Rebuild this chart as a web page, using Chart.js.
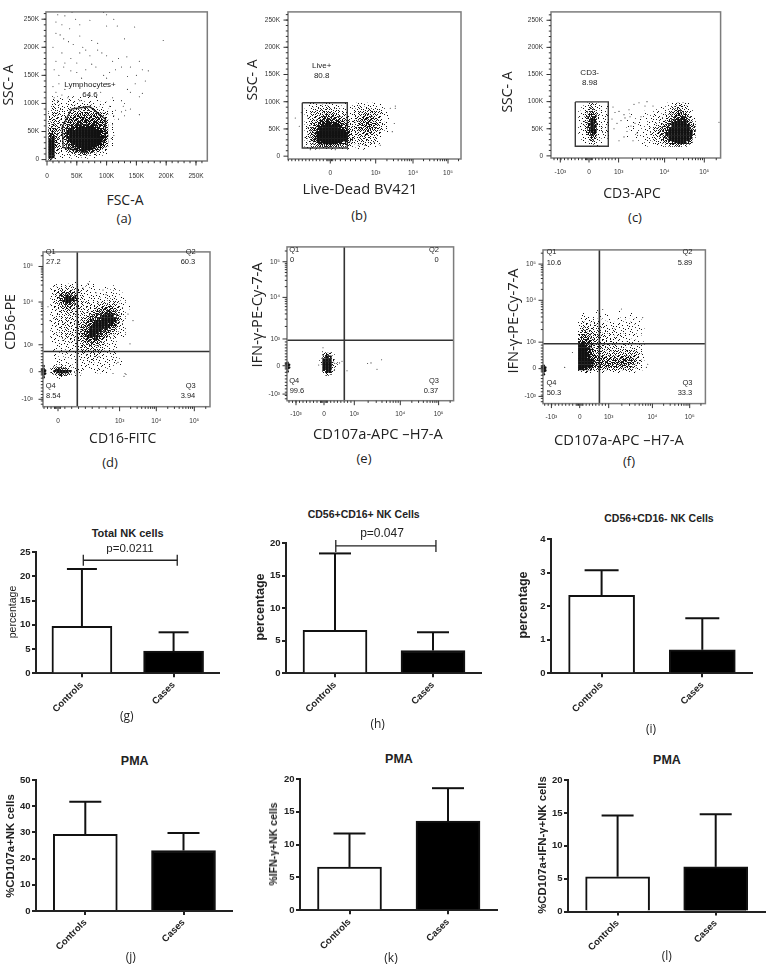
<!DOCTYPE html>
<html>
<head>
<meta charset="utf-8">
<title>NK cell gating and percentages</title>
<script src="https://cdn.jsdelivr.net/npm/chart.js@4/dist/chart.umd.min.js"></script>
<style>
  html, body { margin: 0; background: #fff; }
  #page { position: relative; width: 767px; height: 964px; overflow: hidden; }
  #page canvas { position: absolute; }
  #page canvas.flow { filter: blur(0.3px); }
  #page span { position: absolute; white-space: nowrap; color: #222; transform: translate(-50%, -50%); }
</style>
</head>
<body>
<div id="page"></div>
<script>
// ---- flow plot data. Rows are dot densities, 1-9, top row first
const aRows = [
  "..1.11.1.1.1..1..1......",
  "..1111.1111.1.11.1....1.",
  "..1211111111111.1.1.1...",
  "..2121111212121211.1.1..",
  "..2222121222333232111...",
  ".12222123333344333211.1.",
  ".12322223344444444332.1.",
  ".23322234455555555432.1.",
  ".23332345555666665543.1.",
  ".33332345566666666553.1.",
  ".34333356677777776654.1.",
  ".34433467778888877654.1.",
  ".45433478889999888765.1.",
  ".56432478999999999765.1.",
  ".67432478999999999876.2.",
  ".78432378999999999865.1.",
  ".88432367899999998754.1.",
  ".99432356788999887643.1.",
  ".99332245677888765432...",
  ".99322134456766543211...",
  ".99211112233443221111...",
  ".971111.1112111.11......",
  ".5.1...................."
];
const aSparseX = [18,30,42,48,55,15,25,95,100,112,72,38,118,147,100,15,22,28,36,44,55,75,85,60,10,195,130,25,40,55,65,72,85,92,100,120,134,110,30,15,50,12,20,28,40,50,58,65,75,82,95,100,105,115,125,140,155,160,170,150,135,148,165,10,15,20,25,30,18,12,35,45,55,70,80,90,100,110,125,130,140,155,135,160,105,115,125,130,140,155,120,110,112,128,132];
const aSparseY = [258,256,262,250,240,245,240,262,258,250,248,233,238,236,238,225,222,215,210,205,220,212,207,200,200,212,215,190,180,190,195,185,195,190,185,180,183,175,172,175,172,160,150,165,158,155,145,160,170,165,150,145,155,160,165,165,175,160,158,150,148,135,140,130,120,135,115,125,105,110,110,135,105,115,130,120,135,110,105,100,120,112,125,118,95,88,85,78,90,80,72,62,78,95,88];
const aGateX = [41,71.7,98,98,63,27,25.6,41];
const aGateY = [90,94.4,72,35.6,14.3,21.6,58,90];

const bRows = [
  "..11111211111.1...1111111.1...",
  "..112222221111..112212111.1...",
  ".11223333322211..12222322211..",
  ".11233333333221.1222333322211.",
  ".1223334444332211223343332211.",
  ".12233455554433212334444332.1.",
  ".12334566665543312344544332.1.",
  ".1234567777765432234455443211.",
  ".1234678888876543234455443211.",
  ".1345789999987543234444433211.",
  ".13457899999987532333443322.1.",
  ".13468999999998632333433221...",
  ".23468999999998632233332211...",
  ".1346899999998754222332221....",
  ".1235678888876543122222211....",
  ".1123445555443321.1112111.....",
  ".1111121111111.1..1.11........"
];
const bSparseX = [-35,-31,-29,65,65,64,62,60,22,50,44,35,28,-20,5];
const bSparseY = [70,55,80,92,88,60,45,88,25,20,25,20,20,12,12];
const bGateX = [-28,17,17,-28,-28];
const bGateY = [98,98,15,15,98];

const cLeftRows = [
  "...12321...",
  "..1123211.1",
  "..1134211..",
  ".1123542111",
  ".1124652111",
  ".1135762111",
  ".1125872111",
  ".1136972111",
  ".1136982211",
  ".1126872111",
  ".1125871211",
  ".1124761111",
  "..112551111",
  "..112431.1.",
  "..1112211..",
  ".....1.1..."
];
const cRightRows = [
  "..............1.123211..",
  "............1.112333211.",
  "...........1.1123443221.",
  ".......1.1.1.1123454321.",
  "..1...1.1.1.11234565431.",
  "...1.1.1.111122346676431",
  ".1...1.1.111223467877531",
  "...1.11.1112234578988642",
  ".1.1.1.11122345689999864",
  "...1.1.11223446789999863",
  "..1.1.111223446899999974",
  "...1.1.11223457899999983",
  ".1..1.111122346899999972",
  "....1.11122234578999986.",
  "......1.112223456788764.",
  ".......1.1.11223344321.."
];
const cSparseX = [24,26,30,35,40,45,28,25,32,38,42,35,44,46,50,56,52,30,36,48,41,23,58,64,130];
const cSparseY = [90,80,82,76,85,95,60,50,65,45,55,35,28,60,98,92,72,28,70,42,72,68,100,92,62];
const cGateX = [-13.7,19.3,19.3,-13.7,-13.7];
const cGateY = [99.5,99.5,17.7,17.7,99.5];

const dRows = [
  ".........1...1..............",
  "..1111111111.1.1.....1......",
  ".112222221211.11...1..1.....",
  ".122333332211111.1.1.1..1...",
  ".123455543211111.1111111....",
  ".1235677642211111111111.1...",
  ".12356887532111212111211.1..",
  ".1234677532212112122222111..",
  ".1223455432212212233333211..",
  ".1223344332222223344443321.1",
  ".1122333322212234455554321..",
  ".1122223322223345566765321..",
  ".1122222222223456677886421..",
  ".1222222222234566788887521..",
  ".1122222222345677899887421..",
  ".1122222222345678899776321..",
  ".1122222223456788887654211..",
  ".1112222223456788876543211..",
  ".1112222223457888765432111..",
  ".1122222223457887654321111..",
  ".1112122222346676543211.....",
  ".1111212212344554432111.....",
  "..111111122234444332111.....",
  "..1111111123333322211.11....",
  "..1111.1112223333211111.....",
  "..1.1111111222332221111.....",
  "..1111.1111112223211111.....",
  "..1.1.1.1111122211111111....",
  "...111.1.1111222111111111...",
  "...11111.11111111111111.1...",
  "..12221111.1111.111111......",
  ".2466532.1111.11111.1.......",
  ".3689996.311...11111........",
  ".1245432.11....1............",
  "...111.1...................."
];
const dSparseX = [-10,-8,60,72,70,75,48,38,45,25,30,55,68,66,67];
const dSparseY = [70,55,10,30,62,55,83,85,88,90,95,-2,-3,-5,-2];
const dPileX = [-14.5,-14.5,-14.5,-14.5,-14.5,-13,-13];
const dPileY = [0,3,6,-3,-6,1,-2];

const eRows = [
  "..1.1...",
  "..2531..",
  "..6872..",
  ".19993..",
  ".19993.1",
  "..99931.",
  "..7993..",
  "..4672..",
  "...32..."
];
const eSparseX = [43.6,47,57.6,53,23,8,12.3,18,-1,-5.3,6.3,9.7,15.6];
const eSparseY = [2.3,3,6.3,-3.7,-5.3,0.7,2.3,4.7,19,0.7,-9.3,4,3];
const ePileX = [-36.5,-36.5,-36.5,-36.5,-35,-35];
const ePileY = [0,3,-3,-6,1,-2];

const fRows = [
  ".......1......1.........",
  "..1.....1.1.......1.....",
  "..111.1.1.....1.1...1...",
  ".1111111.1.1...1.1.1.1..",
  ".122212111111.11111.1...",
  ".1222221121111111111.1..",
  ".2333322211121111111111.",
  ".23433322121211111111.1.",
  ".3444332221211121111.1..",
  ".34543332221121111.11...",
  ".4565432222211111111.1..",
  ".67654333222211121111.1.",
  ".8976433332222111111111.",
  ".9987433323322222122111.",
  ".9987533322323232322211.",
  ".9987543333333333333321.",
  ".9987654443434344443321.",
  ".9998755544445555554321.",
  ".9998865555555565554321.",
  ".9998754544545454443211.",
  ".8876433333333323322111.",
  ".1232211111111111111...."
];
const fSparseX = [-15,-7.3,23,41.7,63,68,66.7];
const fSparseY = [1.3,17,62.6,63,54,4.6,1.3];
const fPileX = [-36,-36,-36,-36,-34.5,-34.5];
const fPileY = [0,3,-3,-6,1,-2];

// ---- flow axis ticks
const linearTicks = [0,50,100,150,200,250];
const linearLabels = ['0','50K','100K','150K','200K','250K'];
const posDecades = ['0','10³','10⁴','10⁵'];
const allDecades = ['-10³','0','10³','10⁴','10⁵'];

// ---- bar plot data
const groups = ['Controls','Cases'];
const groupPos = [0,1];
const gMeans = [9.7,4.6];     const gUpper = [21.5,8.45];
const hMeans = [6.6,3.5];     const hUpper = [18.4,6.3];
const iMeans = [2.32,0.7];    const iUpper = [3.07,1.64];
const jMeans = [29.3,23.1];   const jUpper = [41.7,29.8];
const kMeans = [6.6,13.6];    const kUpper = [11.7,18.6];
const lMeans = [5.3,6.8];     const lUpper = [14.6,14.8];
const gBracketX = [0.015,1.04]; const gBracketY = 23.3;
const hBracketX = [0.008,1.03]; const hBracketY = 19.55;

// page px for the chart areas: left, top, right, bottom
const flowPanels = [
  { area:[46,3,209,161], x:[-1.7,269], y:[-2.5,263], xTicks:linearTicks, xLabels:linearLabels, yTicks:linearTicks, yLabels:linearLabels,
    rows:[[aRows,0,5,110,5]], sparseX:aSparseX, sparseY:aSparseY, gates:[[aGateX,aGateY]], linearX:true, linearY:true, yPad:7, xPad:11 },
  { area:[288,2,461,159], x:[-42.3,130.7], y:[-5.2,265], xTicks:[0,45.4,82.7,117.7], xLabels:posDecades, yTicks:linearTicks, yLabels:linearLabels,
    rows:[[bRows,-27,3,95,5]], sparseX:bSparseX, sparseY:bSparseY, gates:[[bGateX,bGateY]], linearY:true, yPad:8, xPad:10 },
  { area:[550.7,1.3,720.3,158.3], x:[-38,131.6], y:[-3.9,265.4], xTicks:[-28.7,0,29.6,75.6,115.3], xLabels:allDecades, yTicks:linearTicks, yLabels:linearLabels,
    rows:[[cLeftRows,-12,3,95,5],[cRightRows,36,3,95,5]], sparseX:cSparseX, sparseY:cSparseY, gates:[[cGateX,cGateY]], linearY:true, yPad:8, xPad:10 },
  { area:[42.7,240,209.7,406.7], x:[-15,152], y:[-37.7,129], xTicks:[0,61.6,98.3,136.3], xLabels:posDecades, yTicks:[-29.7,0,29,75,113.3], yLabels:allDecades,
    rows:[[dRows,-9,3,96,3]], sparseX:dSparseX, sparseY:dSparseY, pileX:dPileX, pileY:dPileY, quad:[19.3,21.7], yPad:10, xPad:11 },
  { area:[286.7,238.3,453.3,401], x:[-37,129.6], y:[-37,125.7], xTicks:[-28,0,30.3,76.3,114.6], xLabels:allDecades, yTicks:[-30,0,28.3,72.3,110], yLabels:allDecades,
    rows:[[eRows,-6,3,15,3]], sparseX:eSparseX, sparseY:eSparseY, pileX:ePileX, pileY:ePileY, quad:[20.3,27], yPad:7, xPad:10 },
  { area:[543.3,240.7,705.7,403.3], x:[-36.7,125.7], y:[-37,125.6], xTicks:[-28.3,0,29,72.7,110], xLabels:allDecades, yTicks:[-29.4,0,28,72.3,110.6], yLabels:allDecades,
    rows:[[fRows,-3,3,60,3]], sparseX:fSparseX, sparseY:fSparseY, pileX:fPileX, pileY:fPileY, quad:[19.7,26.3], yPad:7, xPad:10 }
];

const barPanels = [
  { area:[35.7,551.7,220,673], centers:[81.7,173.5], max:25, step:5, means:gMeans, upper:gUpper, thick:60, cap:15, bracketX:gBracketX, bracketY:gBracketY, capEnd:5.5 },
  { area:[285.7,542.7,481.7,673], centers:[334.7,432.7], max:20, step:5, means:hMeans, upper:hUpper, thick:64, cap:16, bracketX:hBracketX, bracketY:hBracketY, capEnd:6 },
  { area:[550.7,538.7,752.7,673], centers:[601.3,702], max:4, step:1, means:iMeans, upper:iUpper, thick:66, cap:17 },
  { area:[36,780.3,232.7,911.3], centers:[85.3,183.5], max:50, step:10, means:jMeans, upper:jUpper, thick:64, cap:16 },
  { area:[300,778.7,497.7,910], centers:[349.5,448], max:20, step:5, means:kMeans, upper:kUpper, thick:64, cap:16 },
  { area:[568.3,779.7,766.7,911.3], centers:[618,716.3], max:20, step:5, means:lMeans, upper:lUpper, thick:64, cap:16 }
];

// text, centre x, centre y, size, weight, rotated, family
const OPEN = '"Open Sans", sans-serif';
const ARIAL = '"Liberation Sans", Arial, sans-serif';
const pageTexts = [
  ['(a)',124,218,13,400,0,OPEN],['(b)',359,215,13,400,0,OPEN],['(c)',635,217,13,400,0,OPEN],
  ['(d)',110,462,13,400,0,OPEN],['(e)',364,458,13,400,0,OPEN],['(f)',629,461,13,400,0,OPEN],
  ['(g)',126.7,715,12,400,0,OPEN],['(h)',377.7,723,12,400,0,OPEN],['(i)',651,728,12,400,0,OPEN],
  ['(j)',130.7,955.7,12,400,0,OPEN],['(k)',391,956.7,12,400,0,OPEN],['(l)',666.7,955,12,400,0,OPEN],
  ['FSC-A',125,199,14,400,0,OPEN],['SSC- A',7,85,14,400,1,OPEN],
  ['Live-Dead BV421',360,187.7,14.7,400,0,OPEN],['SSC- A',251,80,14,400,1,OPEN],
  ['CD3-APC',632,191.7,14,400,0,OPEN],['SSC- A',506,92,14,400,1,OPEN],
  ['CD16-FITC',122.7,437.3,14,400,0,OPEN],['CD56-PE',9,321.7,14,400,1,OPEN],
  ['CD107a-APC –H7-A',378,432.7,14.7,400,0,OPEN],['IFN-γ-PE-Cy-7-A',256,315,14.7,400,1,OPEN],
  ['CD107a-APC –H7-A',619,439,14.7,400,0,OPEN],['IFN-γ-PE-Cy-7-A',511.7,320.7,14.7,400,1,OPEN],
  ['Lymphocytes+',90,84,8,400,0,ARIAL],['64.6',90,94,8,400,0,ARIAL],
  ['Live+',321.7,65,8,400,0,ARIAL],['80.8',321.7,75,8,400,0,ARIAL],
  ['CD3-',589.7,72.3,8,400,0,ARIAL],['8.98',589.7,82.3,8,400,0,ARIAL],
  ['Q1',50.7,250.7,7.5,400,0,ARIAL],['27.2',53.3,261,7.5,400,0,ARIAL],['Q2',190.7,250.7,7.5,400,0,ARIAL],['60.3',188,261,7.5,400,0,ARIAL],
  ['Q4',50.7,385,7.5,400,0,ARIAL],['8.54',53.3,395,7.5,400,0,ARIAL],['Q3',190.7,385,7.5,400,0,ARIAL],['3.94',188,395,7.5,400,0,ARIAL],
  ['Q1',294.3,248.7,7.5,400,0,ARIAL],['0',292,259,7.5,400,0,ARIAL],['Q2',434,248.7,7.5,400,0,ARIAL],['0',436.7,259,7.5,400,0,ARIAL],
  ['Q4',294.3,379.7,7.5,400,0,ARIAL],['99.6',297,390,7.5,400,0,ARIAL],['Q3',434,379.7,7.5,400,0,ARIAL],['0.37',431,390,7.5,400,0,ARIAL],
  ['Q1',551.5,251.3,7.5,400,0,ARIAL],['10.6',554,261.7,7.5,400,0,ARIAL],['Q2',687.5,251.3,7.5,400,0,ARIAL],['5.89',685,261.7,7.5,400,0,ARIAL],
  ['Q4',551.5,382,7.5,400,0,ARIAL],['50.3',554,392.3,7.5,400,0,ARIAL],['Q3',687.5,382,7.5,400,0,ARIAL],['33.3',685,392.3,7.5,400,0,ARIAL],
  ['Total NK cells',127.7,532.7,11,700,0,ARIAL],['p=0.0211',130,548,11.5,400,0,ARIAL],['percentage',12,612,10.5,400,1,ARIAL],
  ['CD56+CD16+ NK Cells',363.7,513.7,10.5,700,0,ARIAL],['p=0.047',382,533,12,400,0,ARIAL],['percentage',260,607,12.6,700,1,ARIAL],
  ['CD56+CD16- NK Cells',659,517.7,10.5,700,0,ARIAL],['percentage',523,605,12.6,700,1,ARIAL],
  ['PMA',134.7,761,12.5,700,0,ARIAL],['%CD107a+NK cells',10,845.7,11.4,700,1,ARIAL],
  ['PMA',399,759,12.5,700,0,ARIAL],['%IFN-γ+NK cells',272.7,844,10.5,700,1,ARIAL],
  ['PMA',667,760,12.5,700,0,ARIAL],['%CD107a+IFN-γ+NK cells',542,845,11.3,700,1,ARIAL]
];

const page = document.getElementById('page');

// fill texture for the density cells, a pixel is inked when its digit is below the cut
const speckleTile = [
  "7205916384072951","3948170526394718","6152839407165230","0897426135908647",
  "4361058792413509","9720683149275163","1584932076810492","6037415928346705",
  "2816097354192836","5493728601557041","0762184539026978","8135960247683412",
  "3629471805319560","7041853692748129","9578206413065387","1360794285912604"
];
const inkCut = [0,1,2,3,5,6,7,9,10,10];

function speckleFills(ctx) {
  const fills = [null];
  for (let d = 1; d <= 9; d++) {
    const tile = document.createElement('canvas');
    tile.width = tile.height = 16;
    const t = tile.getContext('2d');
    t.fillStyle = '#111';
    speckleTile.forEach((row, y) => {
      [...row].forEach((c, x) => {
        if (+c < inkCut[d]) t.fillRect(x, y, 1, 1);
      });
    });
    fills.push(ctx.createPattern(tile, 'repeat'));
  }
  return fills;
}

function zip(xs, ys) { return xs.map((x, i) => ({ x, y: ys[i] })); }

// one filled cell per digit of a density table
function cellsFrom(table) {
  const [rows, x0, xStep, yTop, yStep] = table;
  const out = [];
  rows.forEach((row, r) => {
    [...row].forEach((c, col) => {
      if (c !== '.') out.push({ x: x0 + col * xStep, y: yTop - r * yStep, d: +c });
    });
  });
  return out;
}

function makeCanvas(area, m) {
  const cv = document.createElement('canvas');
  const w = Math.round(area[2] - area[0] + m.left + m.right);
  const h = Math.round(area[3] - area[1] + m.top + m.bottom);
  cv.width = w;
  cv.height = h;
  cv.style.left = (area[0] - m.left) + 'px';
  cv.style.top = (area[1] - m.top) + 'px';
  page.appendChild(cv);
  return { cv, right: w - m.left - (area[2] - area[0]), bottom: h - m.top - (area[3] - area[1]) };
}

// minor ticks of a log-ish flow axis
function decadeMinors(ticks, min, max) {
  const out = [];
  const zero = ticks.indexOf(0);
  const pos = ticks.slice(zero);
  for (let i = 1; i <= 8; i++) out.push(pos[1] * i / 9);
  out.push(-2.4, -1.2, 1.2, 2.4);
  for (let i = 1; i < pos.length; i++) {
    const span = (pos[i + 1] || pos[i] + pos[i] - pos[i - 1]) - pos[i];
    for (let k = 2; k <= 9; k++) out.push(pos[i] + span * Math.log10(k));
  }
  for (let v = -3.5; v > min; v -= 3.5) out.push(v);
  return out.filter(v => v > min && v < max);
}

const flowAxes = {
  id: 'flowAxes',
  afterDatasetsDraw(chart, args, opts) {
    const { ctx, chartArea: a, scales } = chart;
    ctx.save();
    ctx.strokeStyle = '#7c7c7c';
    ctx.lineWidth = 1.5;
    ctx.strokeRect(a.left, a.top, a.right - a.left, a.bottom - a.top);
    ctx.strokeStyle = '#333';
    ctx.lineWidth = 1;
    ctx.beginPath();
    const tickX = (v, len) => { const p = scales.x.getPixelForValue(v); ctx.moveTo(p, a.bottom); ctx.lineTo(p, a.bottom + len); };
    const tickY = (v, len) => { const p = scales.y.getPixelForValue(v); ctx.moveTo(a.left, p); ctx.lineTo(a.left - len, p); };
    opts.xTicks.forEach(v => tickX(v, 4.5));
    opts.yTicks.forEach(v => tickY(v, 4.5));
    opts.xMinor.forEach(v => tickX(v, 2.2));
    opts.yMinor.forEach(v => tickY(v, 2.2));
    ctx.stroke();
    ctx.restore();
  }
};

function fixedTicks(values, labels, padding) {
  return {
    type: 'linear',
    grid: { display: false, drawTicks: false },
    border: { display: false },
    afterBuildTicks: axis => { axis.ticks = values.map(v => ({ value: v })); },
    ticks: {
      autoSkip: false, maxRotation: 0, minRotation: 0, padding,
      color: '#333', font: { family: ARIAL, size: 6.5 },
      callback: (v, i) => labels[i]
    }
  };
}

function linearMinors(min, max) {
  const out = [];
  for (let v = 10; v < max; v += 10) if (v > min) out.push(v);
  return out;
}

flowPanels.forEach(p => {
  const m = { left: 40, top: 2, right: 6, bottom: 22 };
  if (p.area[1] < 2) m.top = 1;
  const { cv, right, bottom } = makeCanvas(p.area, m);
  cv.className = 'flow';
  const fills = speckleFills(cv.getContext('2d'));

  const datasets = [];
  p.rows.forEach(t => datasets.push({
    data: cellsFrom(t), borderWidth: 0, pointStyle: 'rect', pointRadius: 2.3,
    backgroundColor: c => (c.raw ? fills[c.raw.d] : '#111')
  }));
  datasets.push({ data: zip(p.sparseX, p.sparseY), backgroundColor: '#333', borderWidth: 0, pointRadius: 0.55 });
  if (p.pileX) datasets.push({ data: zip(p.pileX, p.pileY), backgroundColor: '#111', borderWidth: 0, pointRadius: 1.4, clip: false });
  (p.gates || []).forEach(g => datasets.push({
    data: zip(g[0], g[1]), showLine: true, pointRadius: 0, borderColor: '#3a3a3a', borderWidth: 1.4
  }));
  if (p.quad) {
    const quadLine = pts => ({ data: pts, showLine: true, pointRadius: 0, borderColor: '#333', borderWidth: 1.6 });
    datasets.push(quadLine([{ x: p.quad[0], y: p.y[0] }, { x: p.quad[0], y: p.y[1] }]));
    datasets.push(quadLine([{ x: p.x[0], y: p.quad[1] }, { x: p.x[1], y: p.quad[1] }]));
  }

  new Chart(cv, {
    type: 'scatter',
    data: { datasets },
    plugins: [flowAxes],
    options: {
      responsive: false, animation: false, events: [],
      layout: { autoPadding: false, padding: { left: 0, top: m.top, right, bottom: 0 } },
      plugins: {
        legend: { display: false }, tooltip: { enabled: false },
        flowAxes: {
          xTicks: p.xTicks, yTicks: p.yTicks,
          xMinor: p.linearX ? linearMinors(p.x[0], p.x[1]) : decadeMinors(p.xTicks, p.x[0], p.x[1]),
          yMinor: p.linearY ? linearMinors(p.y[0], p.y[1]) : decadeMinors(p.yTicks, p.y[0], p.y[1])
        }
      },
      scales: {
        x: { ...fixedTicks(p.xTicks, p.xLabels, p.xPad), min: p.x[0], max: p.x[1], afterFit: s => { s.height = bottom; } },
        y: { ...fixedTicks(p.yTicks, p.yLabels, p.yPad), min: p.y[0], max: p.y[1], afterFit: s => { s.width = m.left; } }
      }
    }
  });
});

const barAxisColor = '#222';

barPanels.forEach(p => {
  const m = { left: 32, top: 10, right: 0, bottom: 50 };
  const { cv, right, bottom } = makeCanvas(p.area, m);
  const unit = p.centers[1] - p.centers[0];
  const xMin = (p.area[0] - p.centers[0]) / unit;
  const xMax = (p.area[2] - p.centers[0]) / unit;

  const datasets = [{
    type: 'bar', order: 1,
    data: zip(groupPos, p.means),
    backgroundColor: ['#fff', '#000'], borderColor: '#111', borderWidth: 2, borderSkipped: 'bottom',
    barThickness: p.thick
  }];
  groupPos.forEach((g, i) => datasets.push({
    type: 'line', order: 2, clip: false,
    data: [{ x: g, y: p.means[i] }, { x: g, y: p.upper[i] }],
    borderColor: '#111', borderWidth: 2,
    pointStyle: 'line', pointRadius: [0, p.cap], pointBorderColor: '#111', pointBorderWidth: 2
  }));
  if (p.bracketX) datasets.push({
    type: 'line', order: 0, clip: false,
    data: p.bracketX.map(x => ({ x, y: p.bracketY })),
    borderColor: '#222', borderWidth: 1.3,
    pointStyle: 'line', pointRotation: 90, pointRadius: p.capEnd, pointBorderColor: '#222', pointBorderWidth: 1.3
  });

  const axisBase = {
    border: { display: true, color: barAxisColor, width: 2 },
    grid: { drawOnChartArea: false, color: barAxisColor, lineWidth: 2, tickLength: 4 }
  };

  new Chart(cv, {
    type: 'bar',
    data: { datasets },
    options: {
      responsive: false, animation: false, events: [],
      layout: { autoPadding: false, padding: { left: 0, top: m.top, right, bottom: 0 } },
      plugins: { legend: { display: false }, tooltip: { enabled: false } },
      scales: {
        x: {
          ...axisBase, type: 'linear', offset: false, min: xMin, max: xMax,
          grid: { ...axisBase.grid, offset: false },
          afterBuildTicks: axis => { axis.ticks = groupPos.map(v => ({ value: v })); },
          afterFit: s => { s.height = bottom; },
          ticks: {
            autoSkip: false, minRotation: 45, maxRotation: 45, padding: 2, color: barAxisColor,
            font: { family: ARIAL, size: 9.5, weight: 'bold' },
            callback: (v, i) => groups[i]
          }
        },
        y: {
          ...axisBase, min: 0, max: p.max,
          afterFit: s => { s.width = m.left; },
          ticks: { stepSize: p.step, padding: 1.5, color: barAxisColor, font: { family: ARIAL, size: 9.5, weight: 'bold' } }
        }
      }
    }
  });
});

pageTexts.forEach(([text, x, y, size, weight, rotated, family]) => {
  const el = document.createElement('span');
  el.textContent = text;
  el.style.left = x + 'px';
  el.style.top = y + 'px';
  el.style.fontSize = size + 'px';
  el.style.fontWeight = weight;
  el.style.fontFamily = family;
  if (rotated) el.style.transform = 'translate(-50%, -50%) rotate(-90deg)';
  page.appendChild(el);
});
</script>
</body>
</html>
